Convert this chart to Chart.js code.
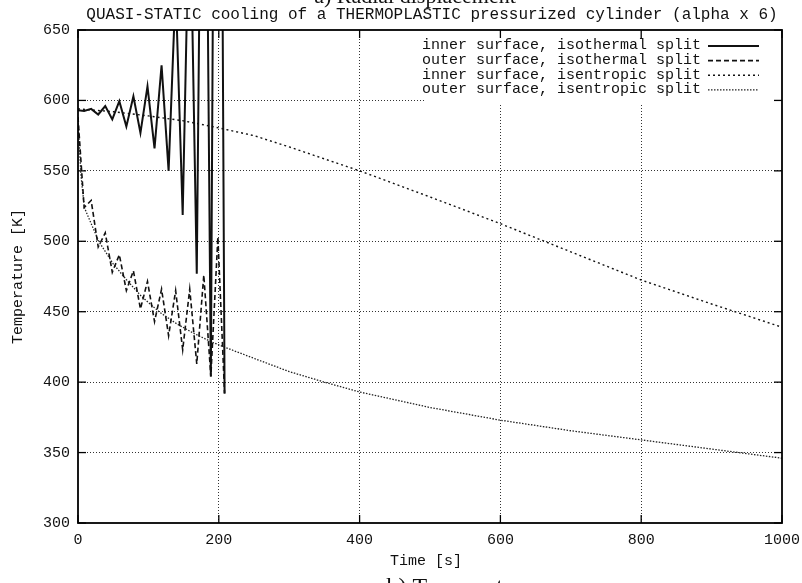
<!DOCTYPE html>
<html><head><meta charset="utf-8">
<script src="https://cdn.jsdelivr.net/npm/chart.js@4.4.1/dist/chart.umd.min.js"></script>
<style>html,body{margin:0;padding:0;background:#fff;}#wrap{width:802px;height:583px;}</style>
</head><body><div id="wrap"><canvas id="c" width="802" height="583"></canvas></div>
<script>
const topTitle = "a) Radial displacement";
const mainTitle = "QUASI-STATIC cooling of a THERMOPLASTIC pressurized cylinder (alpha x 6)";
const bottomTitle = "b) Temperature";
const xTitle = "Time [s]";
const yTitle = "Temperature [K]";
const xTicks = [0, 200, 400, 600, 800, 1000];
const yTicks = [300, 350, 400, 450, 500, 550, 600, 650];
const seriesNames = [
  "inner surface, isothermal split",
  "outer surface, isothermal split",
  "inner surface, isentropic split",
  "outer surface, isentropic split"
];
// isothermal split: oscillating, diverging solution (time in s)
const tIso = [0, 8.7, 18.7, 28.7, 38.7, 48.7, 58.7, 68.7, 78.7, 88.7, 98.7, 108.7, 118.7, 128.7, 138.7, 148.7, 158.7, 168.7, 178.7, 188.7, 198.7, 208.2];
const innerIso = [593, 592.5, 594, 590, 596, 586.5, 599.5, 581.5, 603, 577, 610, 566, 625, 550, 680, 518.6, 760, 477, 1000, 404, 1320, 392];
const outerIso = [588, 524, 529, 496, 506, 478, 490.5, 465, 479, 452, 471.5, 443, 466, 433, 465, 423, 466, 413, 476, 404, 503, 392];
// isentropic split: smooth solution
const tInnerIsen = [0, 50, 100, 150, 200, 250, 300, 400, 500, 600, 700, 800, 900, 1000];
const innerIsen = [594, 592, 589, 585.5, 580.5, 575, 567, 550, 531.5, 512.5, 492.5, 472.5, 455.5, 439];
const tOuterIsen = [0, 4, 9, 20, 30, 50, 70, 90, 115, 140, 165, 190, 210, 260, 300, 350, 400, 500, 600, 700, 800, 900, 1000];
const outerIsen = [588, 548, 524, 511, 499.5, 484, 472, 461, 450, 441.5, 434.5, 428.5, 424.5, 415, 407.5, 400, 393, 382, 373, 365.5, 359, 352.5, 346];

const pts = (xs, ys) => xs.map((x, i) => ({x: x, y: ys[i]}));
const MONO = "'Liberation Mono', 'DejaVu Sans Mono', monospace";
const SERIF = "'Liberation Serif', 'DejaVu Serif', serif";

const deco = {
  id: 'deco',
  beforeDatasetsDraw(chart) {
    const {ctx, chartArea: a} = chart;
    ctx.save();
    ctx.fillStyle = '#fff';
    ctx.fillRect(424, a.top + 3, a.right - 424 - 2, 72);
    ctx.font = '15px ' + MONO;
    ctx.fillStyle = '#111';
    ctx.textAlign = 'right';
    ctx.textBaseline = 'middle';
    chart.data.datasets.forEach((ds, i) => {
      const yy = 45.5 + i * 14.6;
      ctx.fillText(ds.label, 701, yy);
      ctx.strokeStyle = ds.borderColor;
      ctx.lineWidth = ds.borderWidth;
      ctx.setLineDash(ds.borderDash || []);
      ctx.beginPath();
      ctx.moveTo(708, yy + 0.5);
      ctx.lineTo(759, yy + 0.5);
      ctx.stroke();
    });
    ctx.restore();
  },
  afterDatasetsDraw(chart) {
    const {ctx, chartArea: a, scales: {x, y}} = chart;
    ctx.save();
    ctx.strokeStyle = '#000';
    ctx.lineWidth = 1.3;
    ctx.setLineDash([]);
    const seg = (x1, y1, x2, y2) => { ctx.beginPath(); ctx.moveTo(x1, y1); ctx.lineTo(x2, y2); ctx.stroke(); };
    xTicks.forEach(v => {
      const px = x.getPixelForValue(v);
      seg(px, a.bottom, px, a.bottom - 8);
      seg(px, a.top, px, a.top + 8);
    });
    yTicks.forEach(v => {
      const py = y.getPixelForValue(v);
      seg(a.left, py, a.left + 8, py);
      seg(a.right, py, a.right - 8, py);
    });
    ctx.lineWidth = 1.8;
    ctx.strokeRect(a.left, a.top, a.right - a.left, a.bottom - a.top);
    ctx.restore();
  },
  afterDraw(chart) {
    const {ctx, chartArea: a} = chart;
    ctx.save();
    ctx.fillStyle = '#111';
    ctx.textAlign = 'center';
    ctx.textBaseline = 'middle';
    ctx.font = '22px ' + SERIF;
    ctx.fillText(topTitle, 415, -3);
    ctx.font = '24px ' + SERIF;
    ctx.fillText(bottomTitle, 460, 588);
    ctx.font = '16px ' + MONO;
    ctx.fillText(mainTitle, 432, 15);
    ctx.font = '15px ' + MONO;
    ctx.fillText(xTitle, 426, 561);
    ctx.translate(18, (a.top + a.bottom) / 2);
    ctx.rotate(-Math.PI / 2);
    ctx.fillText(yTitle, 0, 0);
    ctx.restore();
  }
};

const gridColor = (lo, hi) => (c) => (c.tick && (c.tick.value === lo || c.tick.value === hi)) ? 'rgba(0,0,0,0)' : '#333';

new Chart(document.getElementById('c'), {
  type: 'line',
  data: {
    datasets: [
      {label: seriesNames[0], data: pts(tIso, innerIso), borderColor: '#111', borderWidth: 2, borderDash: [], clip: 0},
      {label: seriesNames[1], data: pts(tIso, outerIso), borderColor: '#111', borderWidth: 1.6, borderDash: [5, 3], clip: 0},
      {label: seriesNames[2], data: pts(tInnerIsen, innerIsen), borderColor: '#111', borderWidth: 1.4, borderDash: [2, 3], clip: 0},
      {label: seriesNames[3], data: pts(tOuterIsen, outerIsen), borderColor: '#222', borderWidth: 1.3, borderDash: [1.5, 1.5], clip: 0}
    ]
  },
  options: {
    responsive: false,
    animation: false,
    devicePixelRatio: 1,
    layout: {padding: {top: 30, right: 20, left: 0, bottom: 0}},
    elements: {point: {radius: 0}, line: {tension: 0, fill: false}},
    plugins: {legend: {display: false}, title: {display: false}, tooltip: {enabled: false}},
    scales: {
      x: {
        type: 'linear', min: 0, max: 1000,
        afterBuildTicks: s => { s.ticks = xTicks.map(v => ({value: v})); },
        afterFit: s => { s.height = 60; s.paddingLeft = 0; s.paddingRight = 0; },
        ticks: {font: {family: MONO, size: 15}, color: '#111', padding: 8, maxRotation: 0, autoSkip: false, callback: v => String(v)},
        grid: {color: gridColor(0, 1000), lineWidth: 1, drawTicks: false},
        border: {display: false, dash: [1, 2]}
      },
      y: {
        type: 'linear', min: 300, max: 650,
        afterBuildTicks: s => { s.ticks = yTicks.map(v => ({value: v})); },
        afterFit: s => { s.width = 78; s.paddingTop = 0; s.paddingBottom = 0; },
        ticks: {font: {family: MONO, size: 15}, color: '#111', padding: 8, autoSkip: false, callback: v => String(v)},
        grid: {color: gridColor(300, 650), lineWidth: 1, drawTicks: false},
        border: {display: false, dash: [1, 2]}
      }
    }
  },
  plugins: [deco]
});
</script></body></html>
